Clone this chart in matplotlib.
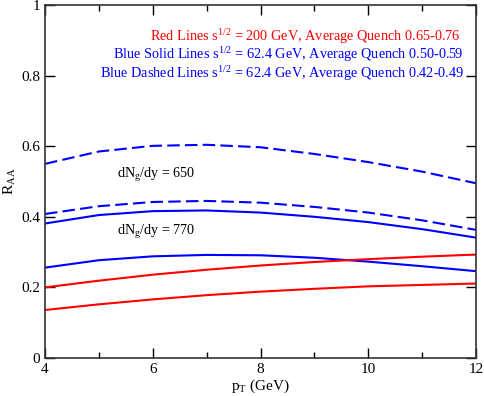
import matplotlib
matplotlib.use("Agg")
import matplotlib.pyplot as plt
from matplotlib.ticker import MultipleLocator

plt.rcParams['font.family'] = ['Liberation Serif', 'DejaVu Serif']
plt.rcParams['mathtext.fontset'] = 'custom'
plt.rcParams['mathtext.rm'] = 'Liberation Serif'
plt.rcParams['mathtext.it'] = 'Liberation Serif:italic'

pt = [4, 5, 6, 7, 8, 9, 10, 11, 12]
blue_dashed_650 = [0.550, 0.585, 0.601, 0.604, 0.597, 0.578, 0.555, 0.528, 0.495]
blue_dashed_770 = [0.408, 0.430, 0.442, 0.445, 0.440, 0.428, 0.412, 0.390, 0.363]
blue_solid_650 = [0.381, 0.405, 0.416, 0.418, 0.412, 0.400, 0.385, 0.365, 0.341]
blue_solid_770 = [0.256, 0.277, 0.288, 0.292, 0.291, 0.284, 0.273, 0.260, 0.246]
red_upper = [0.200, 0.219, 0.236, 0.250, 0.262, 0.272, 0.280, 0.287, 0.293]
red_lower = [0.136, 0.152, 0.166, 0.178, 0.188, 0.196, 0.203, 0.207, 0.211]

fig = plt.figure(figsize=(4.85, 3.96), dpi=100)
ax = fig.add_axes([45/485, 1-358/396, 431/485, 353/396])

lw = 1.5
dash = (0, (6, 2.5))
ax.plot(pt, blue_dashed_650, color='#0000ff', lw=lw, linestyle=dash)
ax.plot(pt, blue_dashed_770, color='#0000ff', lw=lw, linestyle=dash)
ax.plot(pt, blue_solid_650, color='#0000ff', lw=lw)
ax.plot(pt, blue_solid_770, color='#0000ff', lw=lw)
ax.plot(pt, red_upper, color='#ff0000', lw=lw)
ax.plot(pt, red_lower, color='#ff0000', lw=lw)

ax.set_xlim(4, 12)
ax.set_ylim(0, 1)
ax.xaxis.set_minor_locator(MultipleLocator(1))
ax.set_xticks([4, 6, 8, 10, 12])
ax.set_xticklabels(['4', '6', '8', '10', '12'])
ax.set_yticks([0, 0.2, 0.4, 0.6, 0.8, 1.0])
ax.set_yticklabels(['0', '0.2', '0.4', '0.6', '0.8', '1'])
ax.tick_params(which='both', direction='in', top=True, right=True, labelsize=11, colors='black')
ax.tick_params(which='major', length=7, width=1)
ax.tick_params(which='minor', length=4, width=1)
for s in ax.spines.values():
    s.set_linewidth(1.2)
    s.set_color('#333333')

ax.set_xlabel(r'p$_\mathregular{T}$ (GeV)', fontsize=11, labelpad=1)
ax.set_ylabel(r'R$_\mathregular{AA}$', fontsize=11, labelpad=2)

fs = 10.3
fig.text(461/485, 1-40.8/396, r'Red Lines s$^\mathregular{1/2}$ = 200 GeV, Average Quench 0.65-0.76',
         color='#ff0000', ha='right', va='baseline', fontsize=fs)
fig.text(464/485, 1-59.3/396, r'Blue Solid Lines s$^\mathregular{1/2}$ = 62.4 GeV, Average Quench 0.50-0.59',
         color='#0000ff', ha='right', va='baseline', fontsize=fs)
fig.text(464/485, 1-77.8/396, r'Blue Dashed Lines s$^\mathregular{1/2}$ = 62.4 GeV, Average Quench 0.42-0.49',
         color='#0000ff', ha='right', va='baseline', fontsize=fs)

ax.text(5.33, 0.510, r'dN$_\mathregular{g}$/dy = 650', fontsize=10.2, ha='left', va='baseline')
ax.text(5.33, 0.348, r'dN$_\mathregular{g}$/dy = 770', fontsize=10.2, ha='left', va='baseline')

fig.savefig('out.png', dpi=100)
